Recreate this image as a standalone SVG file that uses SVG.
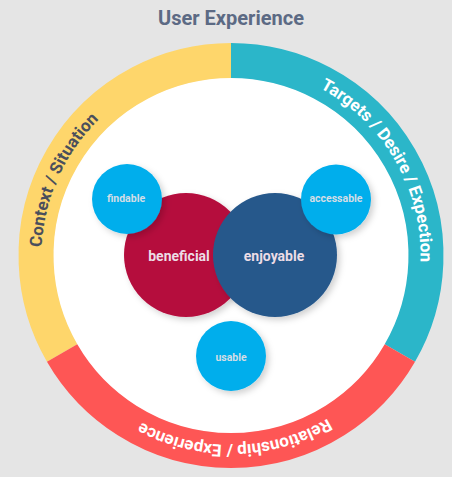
<svg xmlns="http://www.w3.org/2000/svg" width="452" height="477" viewBox="0 0 452 477">
<style>
.ring{fill:none;stroke-width:35}
.rt{font-family:Roboto,"Liberation Sans",sans-serif;font-weight:bold;font-size:17px}
.big{font-family:Roboto,"Liberation Sans",sans-serif;font-weight:bold;font-size:14px;fill:#ecdde6;text-anchor:middle}
.sm{font-family:Roboto,"Liberation Sans",sans-serif;font-weight:bold;font-size:10.5px;fill:#d3dde6;text-anchor:middle}
.dot{fill:#03aeec}
</style>
<defs>
<filter id="sh" x="-30%" y="-30%" width="170%" height="170%">
<feDropShadow dx="3" dy="3" stdDeviation="3" flood-color="#000" flood-opacity="0.18"/>
</filter>
<path id="pY" d="M 66.9 350.25 A 189.5 189.5 0 0 1 231 66"/>
<path id="pT" d="M 231 66 A 189.5 189.5 0 0 1 395.1 350.25"/>
<path id="pR" d="M 395.1 350.25 A 189.5 189.5 0 0 1 66.9 350.25"/>
</defs>
<rect width="452" height="477" fill="#e5e5e5"/>
<text x="231" y="25" text-anchor="middle" font-family="Roboto,'Liberation Sans',sans-serif" font-weight="bold" font-size="20" fill="#5c6a84">User Experience</text>
<g id="ring">
<circle cx="231" cy="255.5" r="178" fill="#fff"/>
<path class="ring" stroke="#fed66b" d="M 62.13 353 A 195 195 0 0 1 231 60.5"/>
<path class="ring" stroke="#2bb6c9" d="M 231 60.5 A 195 195 0 0 1 399.87 353"/>
<path class="ring" stroke="#fe5655" d="M 399.87 353 A 195 195 0 0 1 62.13 353"/>
<text class="rt" fill="#4a4f5c"><textPath href="#pY" startOffset="179" text-anchor="middle">Context / Situation</textPath></text>
<text class="rt" fill="#fff"><textPath href="#pT" startOffset="50%" text-anchor="middle">Targets / Desire / Expection</textPath></text>
<text class="rt" fill="#fff"><textPath href="#pR" startOffset="49%" text-anchor="middle">Relationship / Experience</textPath></text>
</g>
<g id="beneficial">
<circle cx="186" cy="255" r="62" fill="#b50c3e" filter="url(#sh)"/>
<text class="big" x="179" y="261">beneficial</text>
</g>
<g id="enjoyable">
<circle cx="275" cy="255" r="62" fill="#27588b" filter="url(#sh)"/>
<text class="big" x="274" y="261">enjoyable</text>
</g>
<g id="findable">
<circle class="dot" cx="127" cy="199" r="35" filter="url(#sh)"/>
<text class="sm" x="126" y="202">findable</text>
</g>
<g id="accessable">
<circle class="dot" cx="336" cy="199.5" r="35" filter="url(#sh)"/>
<text class="sm" x="336" y="202">accessable</text>
</g>
<g id="usable">
<circle class="dot" cx="231" cy="356" r="35" filter="url(#sh)"/>
<text class="sm" x="231" y="361">usable</text>
</g>
</svg>
